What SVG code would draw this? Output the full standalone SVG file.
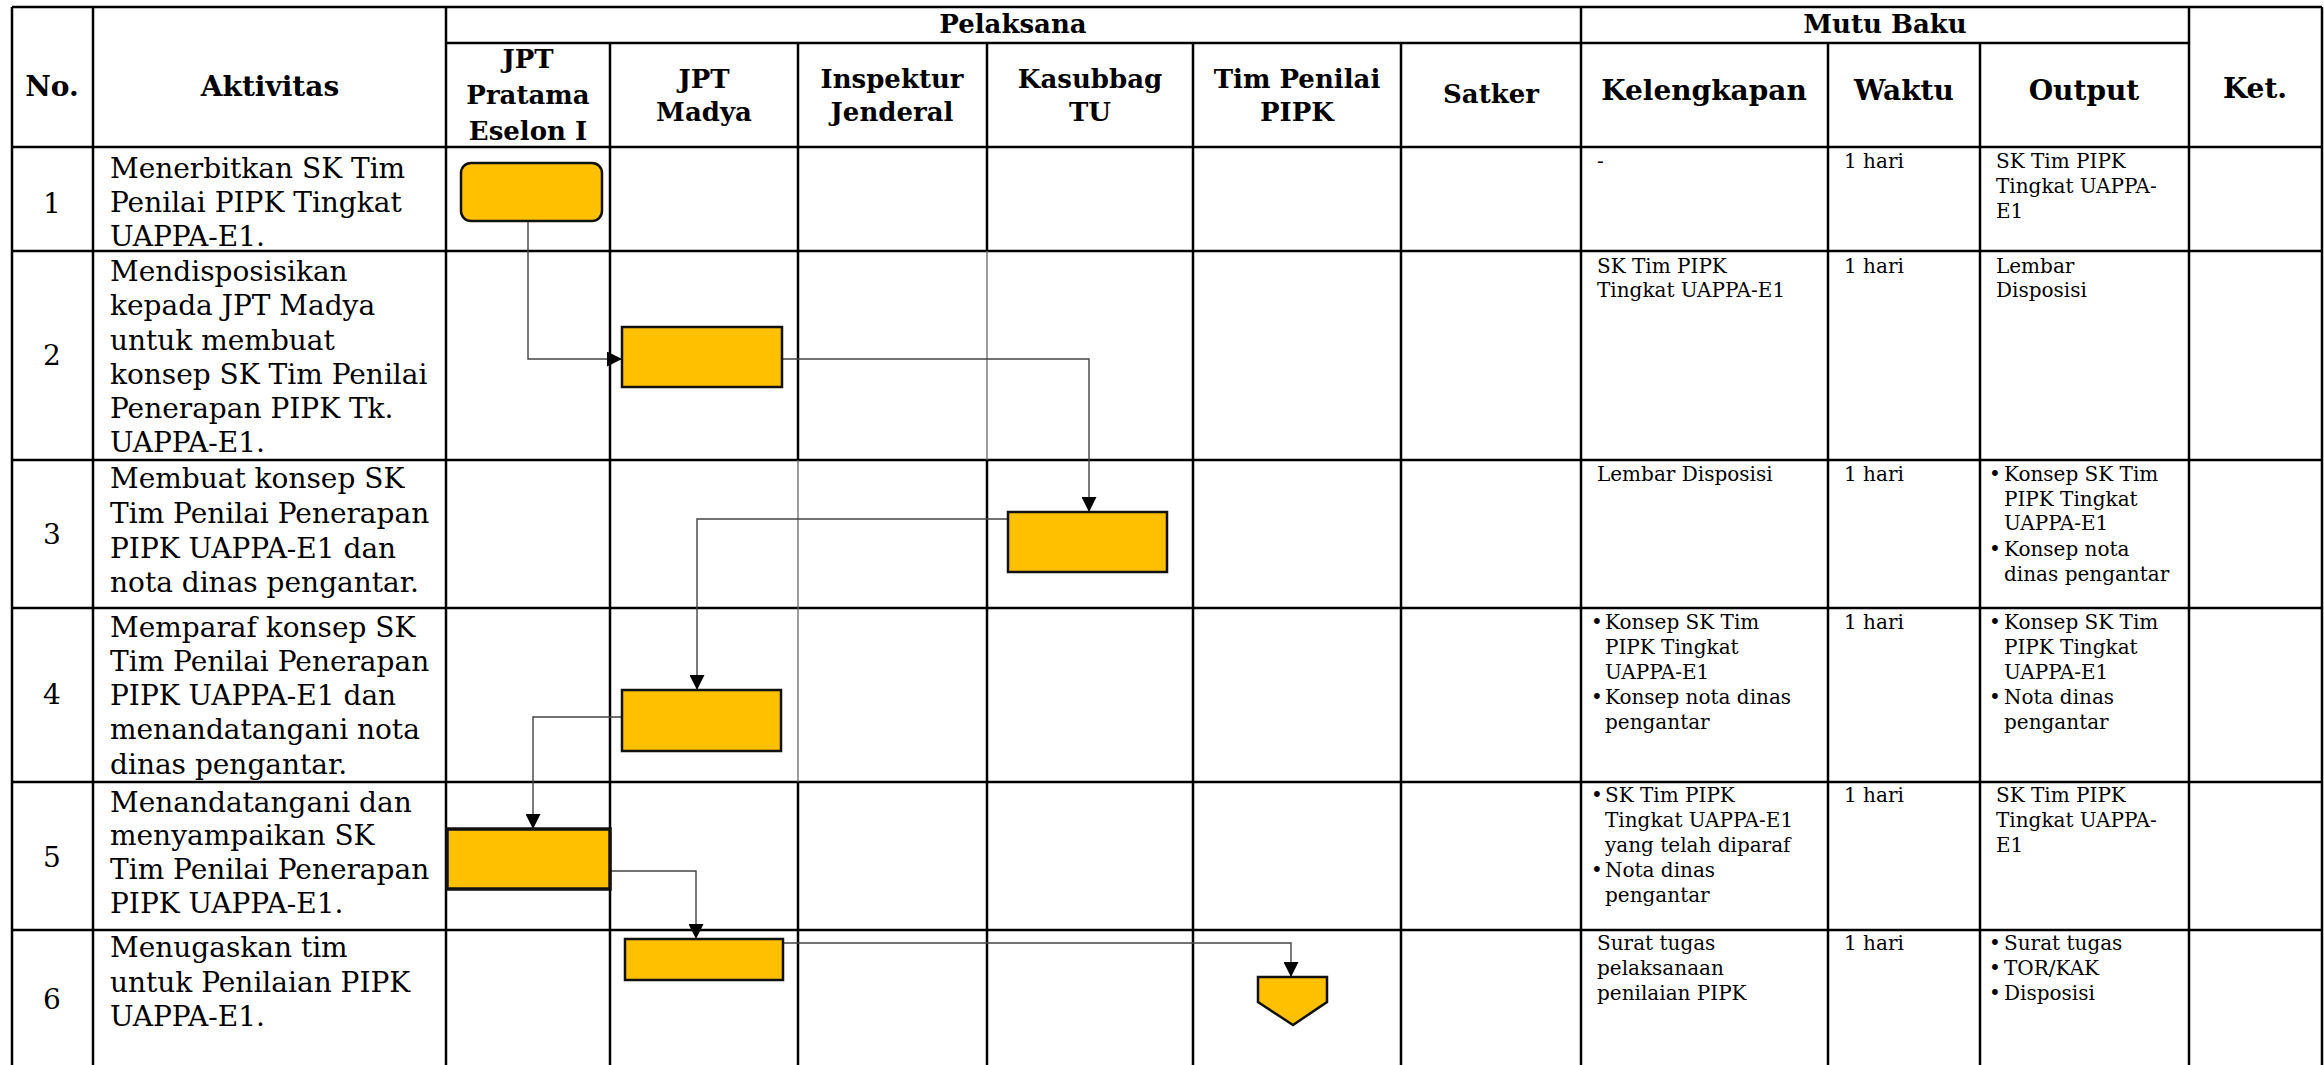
<svg xmlns="http://www.w3.org/2000/svg" width="2324" height="1065" viewBox="0 0 2324 1065">
<style>
.bg{fill:#ffffff}
.grid line{stroke:#000;stroke-width:2.5}
.grid line.thin{stroke:#666;stroke-width:1.3}
.h{font-family:"DejaVu Serif","Liberation Serif",serif;font-weight:bold;fill:#000;text-anchor:middle}
.h26{font-size:26px}
.h28{font-size:28px}
.act{font-family:"DejaVu Serif","Liberation Serif",serif;font-size:28px;fill:#000}
.num{font-family:"DejaVu Serif","Liberation Serif",serif;font-size:28px;fill:#000;text-anchor:middle}
.dat{font-family:"DejaVu Serif","Liberation Serif",serif;font-size:20px;fill:#000}
.box{fill:#FFC000;stroke:#111;stroke-width:2.5}
.conn path{fill:none;stroke:#444;stroke-width:1.4}
</style>
<defs>
<marker id="arr" viewBox="0 0 10 10" refX="10" refY="5" markerWidth="15" markerHeight="15" markerUnits="userSpaceOnUse" orient="auto">
<path d="M0,0 L10,5 L0,10 z" fill="#000"/>
</marker>
</defs>
<rect class="bg" x="0" y="0" width="2324" height="1065"/>

<g id="table" class="grid">
<line x1="12" y1="7" x2="2322" y2="7"/>
<line x1="446" y1="43" x2="2189" y2="43"/>
<line x1="12" y1="147" x2="2322" y2="147"/>
<line x1="12" y1="251" x2="2322" y2="251"/>
<line x1="12" y1="460" x2="2322" y2="460"/>
<line x1="12" y1="608" x2="2322" y2="608"/>
<line x1="12" y1="782" x2="2322" y2="782"/>
<line x1="12" y1="930" x2="2322" y2="930"/>
<line x1="12" y1="7" x2="12" y2="1065"/>
<line x1="93" y1="7" x2="93" y2="1065"/>
<line x1="446" y1="7" x2="446" y2="1065"/>
<line x1="610" y1="43" x2="610" y2="1065"/>
<line x1="798" y1="43" x2="798" y2="460"/>
<line class="thin" x1="798" y1="460" x2="798" y2="782"/>
<line x1="798" y1="782" x2="798" y2="1065"/>
<line x1="987" y1="43" x2="987" y2="251"/>
<line class="thin" x1="987" y1="251" x2="987" y2="460"/>
<line x1="987" y1="460" x2="987" y2="1065"/>
<line x1="1193" y1="43" x2="1193" y2="1065"/>
<line x1="1401" y1="43" x2="1401" y2="1065"/>
<line x1="1581" y1="7" x2="1581" y2="1065"/>
<line x1="1828" y1="43" x2="1828" y2="1065"/>
<line x1="1980" y1="43" x2="1980" y2="1065"/>
<line x1="2189" y1="7" x2="2189" y2="1065"/>
<line x1="2322" y1="7" x2="2322" y2="1065"/>
</g>

<g id="header">
<text class="h h28" x="52" y="96">No.</text>
<text class="h h28" x="270" y="96">Aktivitas</text>
<text class="h h26" x="1013" y="33">Pelaksana</text>
<text class="h h26" x="1885" y="33">Mutu Baku</text>
<text class="h h26" x="528" y="68">JPT</text>
<text class="h h26" x="528" y="104">Pratama</text>
<text class="h h26" x="528" y="140">Eselon I</text>
<text class="h h26" x="704" y="88">JPT</text>
<text class="h h26" x="704" y="121">Madya</text>
<text class="h h26" x="892" y="88">Inspektur</text>
<text class="h h26" x="892" y="121">Jenderal</text>
<text class="h h26" x="1090" y="88">Kasubbag</text>
<text class="h h26" x="1090" y="121">TU</text>
<text class="h h26" x="1297" y="88">Tim Penilai</text>
<text class="h h26" x="1297" y="121">PIPK</text>
<text class="h h26" x="1491" y="103">Satker</text>
<text class="h h28" x="1704" y="100">Kelengkapan</text>
<text class="h h28" x="1904" y="100">Waktu</text>
<text class="h h28" x="2084" y="100">Output</text>
<text class="h h28" x="2255" y="98">Ket.</text>
</g>

<g id="numbers">
<text class="num" x="52" y="213">1</text>
<text class="num" x="52" y="365">2</text>
<text class="num" x="52" y="544">3</text>
<text class="num" x="52" y="704">4</text>
<text class="num" x="52" y="867">5</text>
<text class="num" x="52" y="1009">6</text>
</g>

<g id="activities" class="act">
<text x="110" y="178">Menerbitkan SK Tim</text>
<text x="110" y="212">Penilai PIPK Tingkat</text>
<text x="110" y="246">UAPPA-E1.</text>
<text x="110" y="281">Mendisposisikan</text>
<text x="110" y="315">kepada JPT Madya</text>
<text x="110" y="350">untuk membuat</text>
<text x="110" y="384">konsep SK Tim Penilai</text>
<text x="110" y="418">Penerapan PIPK Tk.</text>
<text x="110" y="452">UAPPA-E1.</text>
<text x="110" y="488">Membuat konsep SK</text>
<text x="110" y="523">Tim Penilai Penerapan</text>
<text x="110" y="558">PIPK UAPPA-E1 dan</text>
<text x="110" y="592">nota dinas pengantar.</text>
<text x="110" y="637">Memparaf konsep SK</text>
<text x="110" y="671">Tim Penilai Penerapan</text>
<text x="110" y="705">PIPK UAPPA-E1 dan</text>
<text x="110" y="739">menandatangani nota</text>
<text x="110" y="774">dinas pengantar.</text>
<text x="110" y="812">Menandatangani dan</text>
<text x="110" y="845">menyampaikan SK</text>
<text x="110" y="879">Tim Penilai Penerapan</text>
<text x="110" y="913">PIPK UAPPA-E1.</text>
<text x="110" y="957">Menugaskan tim</text>
<text x="110" y="992">untuk Penilaian PIPK</text>
<text x="110" y="1026">UAPPA-E1.</text>
</g>

<g id="mutu" class="dat">
<text x="1597" y="168">-</text>
<text x="1844" y="168">1 hari</text>
<text x="1996" y="168">SK Tim PIPK</text>
<text x="1996" y="193">Tingkat UAPPA-</text>
<text x="1996" y="218">E1</text>

<text x="1597" y="273">SK Tim PIPK</text>
<text x="1597" y="297">Tingkat UAPPA-E1</text>
<text x="1844" y="273">1 hari</text>
<text x="1996" y="273">Lembar</text>
<text x="1996" y="297">Disposisi</text>

<text x="1597" y="481">Lembar Disposisi</text>
<text x="1844" y="481">1 hari</text>
<text x="1989" y="481">•</text>
<text x="2004" y="481">Konsep SK Tim</text>
<text x="2004" y="506">PIPK Tingkat</text>
<text x="2004" y="530">UAPPA-E1</text>
<text x="1989" y="556">•</text>
<text x="2004" y="556">Konsep nota</text>
<text x="2004" y="581">dinas pengantar</text>

<text x="1591" y="629">•</text>
<text x="1605" y="629">Konsep SK Tim</text>
<text x="1605" y="654">PIPK Tingkat</text>
<text x="1605" y="679">UAPPA-E1</text>
<text x="1591" y="704">•</text>
<text x="1605" y="704">Konsep nota dinas</text>
<text x="1605" y="729">pengantar</text>
<text x="1844" y="629">1 hari</text>
<text x="1989" y="629">•</text>
<text x="2004" y="629">Konsep SK Tim</text>
<text x="2004" y="654">PIPK Tingkat</text>
<text x="2004" y="679">UAPPA-E1</text>
<text x="1989" y="704">•</text>
<text x="2004" y="704">Nota dinas</text>
<text x="2004" y="729">pengantar</text>

<text x="1591" y="802">•</text>
<text x="1605" y="802">SK Tim PIPK</text>
<text x="1605" y="827">Tingkat UAPPA-E1</text>
<text x="1605" y="852">yang telah diparaf</text>
<text x="1591" y="877">•</text>
<text x="1605" y="877">Nota dinas</text>
<text x="1605" y="902">pengantar</text>
<text x="1844" y="802">1 hari</text>
<text x="1996" y="802">SK Tim PIPK</text>
<text x="1996" y="827">Tingkat UAPPA-</text>
<text x="1996" y="852">E1</text>

<text x="1597" y="950">Surat tugas</text>
<text x="1597" y="975">pelaksanaan</text>
<text x="1597" y="1000">penilaian PIPK</text>
<text x="1844" y="950">1 hari</text>
<text x="1989" y="950">•</text>
<text x="2004" y="950">Surat tugas</text>
<text x="1989" y="975">•</text>
<text x="2004" y="975">TOR/KAK</text>
<text x="1989" y="1000">•</text>
<text x="2004" y="1000">Disposisi</text>
</g>

<g id="connectors" class="conn">
<path d="M528,221 V359 H622" marker-end="url(#arr)"/>
<path d="M782,359 H1089 V512" marker-end="url(#arr)"/>
<path d="M1008,519 H697 V690" marker-end="url(#arr)"/>
<path d="M622,717 H533 V829" marker-end="url(#arr)"/>
<path d="M610,871 H696 V939" marker-end="url(#arr)"/>
<path d="M783,943 H1291 V977" marker-end="url(#arr)"/>
</g>

<g id="node1"><rect class="box" x="461" y="163" width="141" height="58" rx="10" ry="10"/></g>
<g id="node2"><rect class="box" x="622" y="327" width="160" height="60"/></g>
<g id="node3"><rect class="box" x="1008" y="512" width="159" height="60"/></g>
<g id="node4"><rect class="box" x="622" y="690" width="159" height="61"/></g>
<g id="node5"><rect class="box" x="447" y="829" width="163" height="60" style="stroke-width:3.5"/></g>
<g id="node6"><rect class="box" x="625" y="939" width="158" height="41"/></g>
<g id="node7"><polygon class="box" points="1258,977 1327,977 1327,1002 1293,1025 1258,1002"/></g>
</svg>
